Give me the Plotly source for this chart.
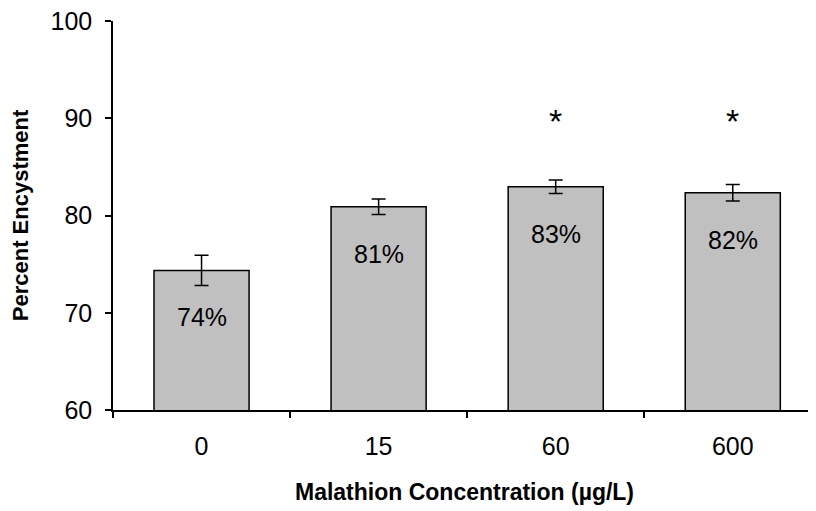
import plotly.graph_objects as go

categories = ["0", "15", "60", "600"]
values = [74.35, 80.9, 82.95, 82.35]
errors = [1.55, 0.8, 0.7, 0.85]
labels = ["74%", "81%", "83%", "82%"]
sig_categories = ["60", "600"]
sig_level = [89.7, 89.7]
y_ticks = [60, 70, 80, 90, 100]

FONT = "Liberation Sans, Arial, sans-serif"

fig = go.Figure()
fig.add_trace(go.Bar(
    x=categories, y=values, width=0.537,
    marker=dict(color="#C0C0C0", line=dict(color="black", width=1.5)),
    error_y=dict(type="data", array=errors, visible=True, color="black",
                 thickness=1.5, width=7),
    hoverinfo="skip",
))

for c, v, t in zip(categories, values, labels):
    fig.add_annotation(x=categories.index(c), y=v, text=t, showarrow=False, yanchor="middle",
                       yshift=-47, font=dict(family=FONT, size=25, color="black"))

for c, v in zip(sig_categories, sig_level):
    fig.add_annotation(x=categories.index(c), y=v, text="*", showarrow=False, yanchor="middle",
                       font=dict(family=FONT, size=34, color="black"))

fig.update_layout(
    width=808, height=503,
    margin=dict(l=105, r=0, t=13, b=101),
    paper_bgcolor="white", plot_bgcolor="white",
    showlegend=False,
    font=dict(family=FONT, color="black", size=25),
    xaxis=dict(
        type="category", range=[-0.5, 3.47],
        showline=True, linecolor="black", linewidth=1.5,
        ticks="outside", tickson="boundaries", ticklen=6, tickwidth=1.5, tickcolor="black",
        tickfont=dict(size=25), ticklabelstandoff=13,
        title=dict(text="<b>Malathion Concentration (µg/L)</b>", font=dict(size=23), standoff=25),
        showgrid=False, zeroline=False, automargin=False,
    ),
    yaxis=dict(
        range=[60, 100], tickvals=y_ticks,
        showline=True, linecolor="black", linewidth=1.5,
        ticks="outside", ticklen=6, tickwidth=1.5, tickcolor="black",
        tickfont=dict(size=25), ticklabelstandoff=8, ticklabeloverflow="allow",
        title=dict(text="<b>Percent Encystment</b>", font=dict(size=22), standoff=29),
        showgrid=False, zeroline=False, automargin=False,
    ),
)

fig.write_html("out.html")
